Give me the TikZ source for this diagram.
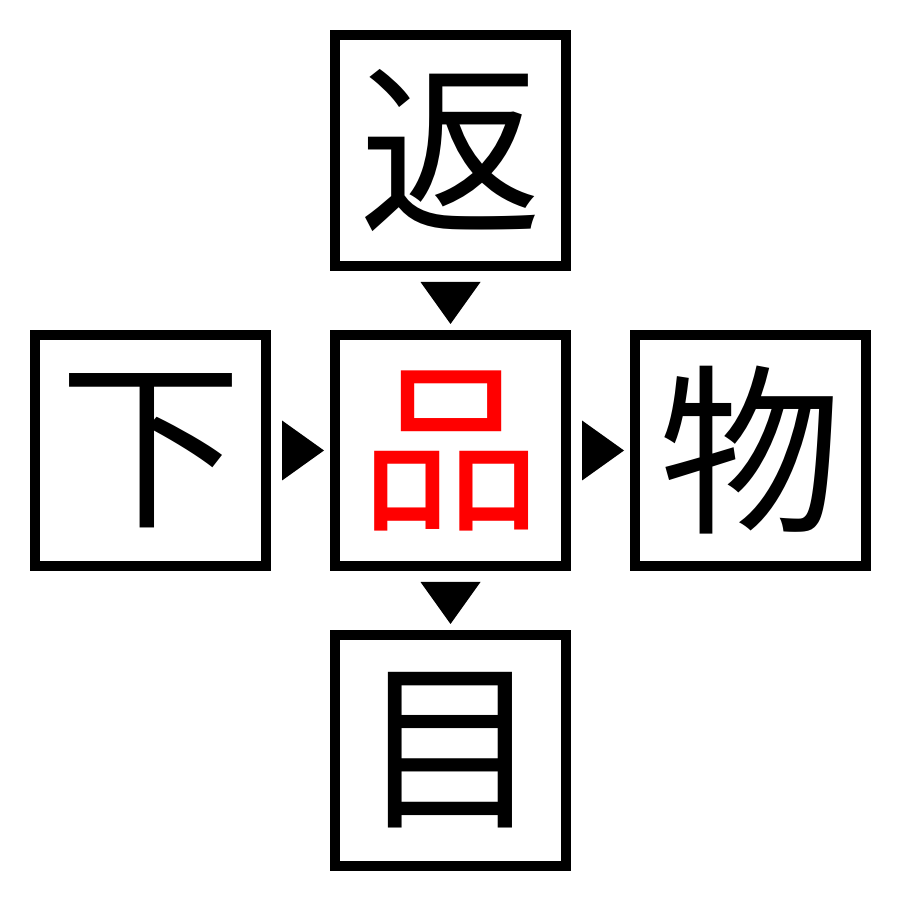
\documentclass[tikz,border=0pt]{standalone}
\usepackage{fontspec}
\newfontfamily\cjk{Noto Sans CJK JP}
\usepackage{tikz}
\usetikzlibrary{positioning}
\usetikzlibrary{calc}
\tikzset{kanji box/.style={draw=black,line width=0.1cm,minimum size=2.31cm,inner sep=0,outer sep=0,font=\cjk\fontsize{52pt}{52pt}\selectfont}}
\tikzset{marker/.style={fill=black}}

\begin{document}
\begin{tikzpicture}

            \def \boxGap{0.69}
            \def \triNear{0.16}
            \def \triFar{0.58}
            \def \triHalf{0.3}

            \useasboundingbox (0, 0) rectangle (9, 9);

            \node[kanji box, text=red] (center) at (4.505, 4.495) {品};
            \node[kanji box] (top) [above=\boxGap of center] {返};
            \node[kanji box] (left) [left=\boxGap of center] {下};
            \node[kanji box] (right) [right=\boxGap of center] {物};
            \node[kanji box] (bottom) [below=\boxGap of center] {目};

            \fill[marker] ($(top.south)+(-\triHalf, -\triNear)$) -- ($(top.south)+(\triHalf, -\triNear)$) -- ($(top.south)+(0, -\triFar)$) -- cycle;
            \fill[marker] ($(center.south)+(-\triHalf, -\triNear)$) -- ($(center.south)+(\triHalf, -\triNear)$) -- ($(center.south)+(0, -\triFar)$) -- cycle;
            \fill[marker] ($(left.east)+(\triNear, \triHalf)$) -- ($(left.east)+(\triNear, -\triHalf)$) -- ($(left.east)+(\triFar, 0)$) -- cycle;
            \fill[marker] ($(center.east)+(\triNear, \triHalf)$) -- ($(center.east)+(\triNear, -\triHalf)$) -- ($(center.east)+(\triFar, 0)$) -- cycle;

          \end{tikzpicture}
\end{document}
